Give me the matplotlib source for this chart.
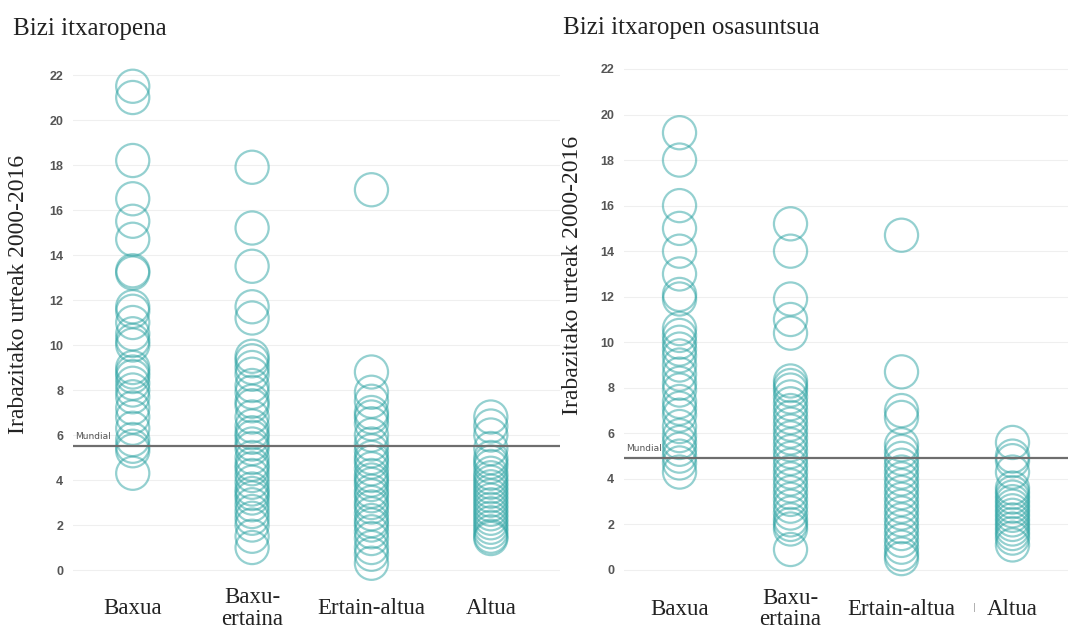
import numpy as np
import matplotlib
matplotlib.use("Agg")
import matplotlib.pyplot as plt

categories = ["Baxua", "Baxu-\nertaina", "Ertain-altua", "Altua"]

# Bizi itxaropena (irabazitako urteak 2000-2016)
le_baxua = [21.5, 21.0, 18.2, 16.5, 15.5, 14.7, 13.3, 13.2, 11.7, 11.5, 11.0, 10.5,
            10.2, 10.0, 9.0, 8.8, 8.6, 8.3, 8.0, 7.7, 7.2, 6.8, 6.3, 5.8, 5.5, 5.3, 4.3]
le_baxu_ertaina = [17.9, 15.2, 13.5, 11.7, 11.2, 9.5, 9.3, 9.0, 8.7, 8.2, 7.9, 7.5,
                   7.3, 6.8, 6.4, 6.1, 5.9, 5.6, 5.4, 5.0, 4.7, 4.5, 4.2, 3.9, 3.6,
                   3.4, 3.2, 2.9, 2.6, 2.3, 2.0, 1.5, 1.0]
le_ertain_altua = [16.9, 8.8, 7.9, 7.5, 7.0, 6.8, 6.5, 6.0, 5.6, 5.3, 5.0, 4.8, 4.5,
                   4.2, 4.0, 3.8, 3.5, 3.3, 3.0, 2.8, 2.5, 2.2, 2.0, 1.7, 1.4, 1.0, 0.7, 0.3]
le_altua = [6.8, 6.4, 6.0, 5.4, 5.0, 4.8, 4.6, 4.3, 4.1, 3.9, 3.7, 3.5, 3.3, 3.1,
            2.9, 2.7, 2.5, 2.3, 2.1, 1.9, 1.7, 1.5, 1.4]
le_mundial = 5.5

# Bizi itxaropen osasuntsua
hale_baxua = [19.2, 18.0, 16.0, 15.0, 14.0, 13.0, 12.1, 11.9, 10.6, 10.3, 10.0, 9.7,
              9.4, 9.0, 8.6, 8.2, 7.9, 7.4, 7.1, 6.8, 6.3, 5.9, 5.6, 5.3, 5.0, 4.7, 4.3]
hale_baxu_ertaina = [15.2, 14.0, 11.9, 11.0, 10.4, 8.3, 8.1, 7.9, 7.6, 7.3, 7.0, 6.7,
                     6.4, 6.1, 5.8, 5.5, 5.2, 4.9, 4.6, 4.3, 4.0, 3.7, 3.4, 3.1, 2.8,
                     2.5, 2.2, 2.0, 1.8, 0.9]
hale_ertain_altua = [14.7, 8.7, 7.0, 6.7, 5.5, 5.2, 4.9, 4.6, 4.3, 4.0, 3.7, 3.4, 3.1,
                     2.8, 2.5, 2.2, 1.9, 1.6, 1.3, 1.0, 0.7, 0.5]
hale_altua = [5.6, 5.0, 4.8, 4.3, 3.6, 3.4, 3.2, 3.0, 2.8, 2.6, 2.4, 2.2, 2.0, 1.8,
              1.6, 1.4, 1.1]
hale_mundial = 4.9

yticks = list(range(0, 23, 2))

fig = plt.figure(figsize=(10.68, 6.37), dpi=100)
ax1 = fig.add_axes([0.0684, 0.0769, 0.456, 0.8336])
ax2 = fig.add_axes([0.5843, 0.0766, 0.4157, 0.8437])

panels = [
    (ax1, [le_baxua, le_baxu_ertaina, le_ertain_altua, le_altua], le_mundial, (-0.5, 3.58)),
    (ax2, [hale_baxua, hale_baxu_ertaina, hale_ertain_altua, hale_altua], hale_mundial, (-0.5, 3.5)),
]

for ax, groups, mundial, xl in panels:
    ax.set_facecolor("none")
    for i, vals in enumerate(groups):
        ax.scatter(np.full(len(vals), i), vals, s=570, facecolors="none",
                   edgecolors="#2aa2a2", linewidths=1.6, alpha=0.5, zorder=3)
    ax.axhline(mundial, color="#6e6e6e", lw=1.6, zorder=4)
    ax.text(xl[0] + 0.02, mundial + 0.25, "Mundial", fontsize=6.5, color="#555555",
            ha="left", va="bottom", zorder=5)
    ax.set_xlim(*xl)
    ax.set_ylim(-0.8, 22.8)
    ax.set_yticks(yticks)
    ax.set_yticklabels([str(t) for t in yticks], family="Liberation Sans",
                       fontweight="bold", fontsize=9, color="#555555")
    ax.set_xticks(range(len(categories)))
    ax.set_xticklabels(categories, family="Liberation Serif", fontsize=16.5, color="#222222")
    for lbl in ax.get_xticklabels():
        lbl.set_va("center")
        lbl.set_linespacing(1.05)
    ax.tick_params(axis="x", length=0, pad=15)
    ax.tick_params(axis="y", length=0, pad=7)
    ax.grid(axis="y", color="#efefef", lw=0.8)
    ax.set_axisbelow(True)
    for sp in ax.spines.values():
        sp.set_visible(False)

fig.text(0.012, 0.954, "Bizi itxaropena", family="Liberation Serif", fontsize=18,
         color="#222222", ha="left", va="center")
fig.text(0.527, 0.956, "Bizi itxaropen osasuntsua", family="Liberation Serif",
         fontsize=18, color="#222222", ha="left", va="center")
fig.text(0.017, 0.537, "Irabazitako urteak 2000-2016", family="Liberation Serif",
         fontsize=17, color="#222222", rotation=90, ha="center", va="center")
fig.text(0.536, 0.567, "Irabazitako urteak 2000-2016", family="Liberation Serif",
         fontsize=17, color="#222222", rotation=90, ha="center", va="center")
# stray mark between the last two labels of the right panel
fig.text(0.912, 0.046, "|", fontsize=6, color="#999999", ha="center", va="center")

fig.savefig("out.png", dpi=100)
